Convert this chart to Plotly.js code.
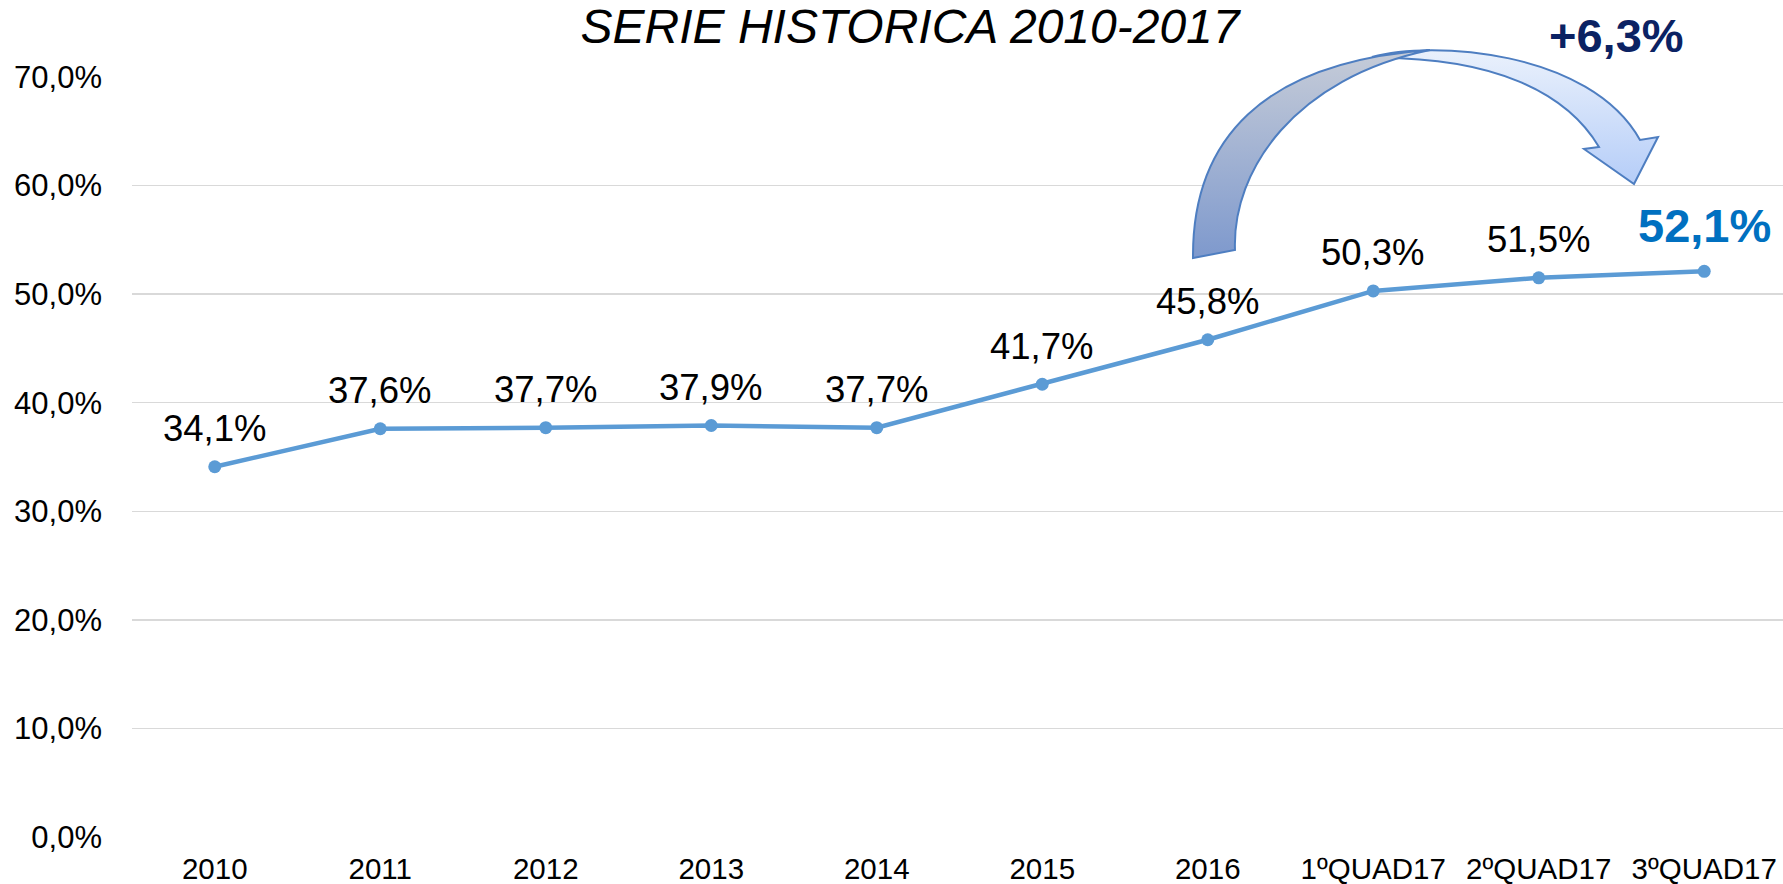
<!DOCTYPE html>
<html>
<head>
<meta charset="utf-8">
<script src="https://cdn.plot.ly/plotly-3.0.1.min.js"></script>
<style>html,body{margin:0;padding:0;background:#fff;}#chart{width:1783px;height:884px;}</style>
</head>
<body>
<div id="chart"></div>
<script>
// ---- data ----
const categories = ["2010","2011","2012","2013","2014","2015","2016","1ºQUAD17","2ºQUAD17","3ºQUAD17"];
const values = [34.1, 37.6, 37.7, 37.9, 37.7, 41.7, 45.8, 50.3, 51.5, 52.1];
const titleText = "SERIE HISTORICA 2010-2017";
const changeText = "+6,3%";
const yTicks = [0, 10, 20, 30, 40, 50, 60, 70];

// ---- layout geometry (pixels) ----
const W = 1783, H = 884;
const M = {l: 132, r: 0, t: 77, b: 47};
const plotW = W - M.l - M.r, plotH = H - M.t - M.b;
const px2paperX = p => (p - M.l) / plotW;
const px2paperY = p => 1 - (p - M.t) / plotH;

const fmt = v => v.toFixed(1).replace('.', ',') + '%';
const FONT = '"Liberation Sans", Arial, sans-serif';

const labelAnnotations = values.map((v, i) => {
  const last = i === values.length - 1;
  return {
    x: i, y: v, xref: 'x', yref: 'y',
    text: last ? '<b>' + fmt(v) + '</b>' : fmt(v),
    showarrow: false, xanchor: 'center', yanchor: 'middle',
    yshift: last ? 46 : 38,
    font: {family: FONT, size: last ? 47 : 36.5, color: last ? '#0070C0' : '#000000'}
  };
});

// curved arrow decoration (svg in pixel space of the full figure)
const svg = `<svg xmlns="http://www.w3.org/2000/svg" width="${W}" height="${H}" viewBox="0 0 ${W} ${H}">
<defs>
<linearGradient id="gl" x1="0" y1="0" x2="0" y2="1">
<stop offset="0" stop-color="#C6CCD8"/><stop offset="1" stop-color="#7E99CD"/></linearGradient>
<linearGradient id="gr" x1="0" y1="0" x2="0" y2="1">
<stop offset="0" stop-color="#EAF1FC"/><stop offset="1" stop-color="#B5CDF8"/></linearGradient>
</defs>
<path d="M1372,57 C1430,40 1590,50 1640,140 L1658,137 L1634,184 L1584,149 L1599,147 C1565,90 1490,58 1380,58 Z" fill="url(#gr)" stroke="#4E7EC1" stroke-width="2" stroke-linejoin="miter"/>
<path d="M1193,258 C1192,140 1262,62 1430,50 C1295,78 1232,170 1235,250 Z" fill="url(#gl)" stroke="#4E7EC1" stroke-width="2"/>
</svg>`;
const svgURI = 'data:image/svg+xml;charset=utf-8,' + encodeURIComponent(svg);

const trace = {
  type: 'scatter', mode: 'lines+markers',
  x: categories, y: values,
  line: {color: '#5B9BD5', width: 4.5},
  marker: {color: '#5B9BD5', size: 13},
  cliponaxis: false, hoverinfo: 'skip'
};

const layout = {
  width: W, height: H,
  margin: M,
  paper_bgcolor: '#ffffff', plot_bgcolor: '#ffffff',
  separators: ',.',
  showlegend: false,
  font: {family: FONT, color: '#000000'},
  title: {
    text: '<i>' + titleText + '</i>',
    font: {family: FONT, size: 48, color: '#000000'},
    xref: 'container', yref: 'container',
    x: 910 / W, xanchor: 'center',
    y: 1 - 26 / H, yanchor: 'middle'
  },
  xaxis: {
    type: 'category',
    range: [-0.5, 9.476],
    showgrid: false, showline: false, zeroline: false,
    ticks: '', ticklabelstandoff: 11,
    tickfont: {family: FONT, size: 29.5, color: '#000000'},
    fixedrange: true
  },
  yaxis: {
    range: [0, 70],
    tickvals: yTicks,
    ticktext: yTicks.map(v => v.toFixed(1).replace('.', ',') + '%'),
    showgrid: true, gridcolor: '#D9D9D9', gridwidth: 1.4,
    showline: false, zeroline: false,
    ticks: '', ticklabelstandoff: 29,
    tickfont: {family: FONT, size: 31, color: '#000000'},
    fixedrange: true
  },
  annotations: labelAnnotations.concat([{
    xref: 'paper', yref: 'paper',
    x: px2paperX(1616), y: px2paperY(36),
    text: '<b>' + changeText + '</b>',
    showarrow: false, xanchor: 'center', yanchor: 'middle',
    font: {family: FONT, size: 47, color: '#0B2263'}
  }]),
  images: [{
    source: svgURI,
    xref: 'paper', yref: 'paper',
    x: px2paperX(0), y: px2paperY(0),
    sizex: W / plotW, sizey: H / plotH,
    xanchor: 'left', yanchor: 'top',
    sizing: 'stretch', layer: 'above'
  }]
};

Plotly.newPlot('chart', [trace], layout, {displayModeBar: false, staticPlot: true});
</script>
</body>
</html>
